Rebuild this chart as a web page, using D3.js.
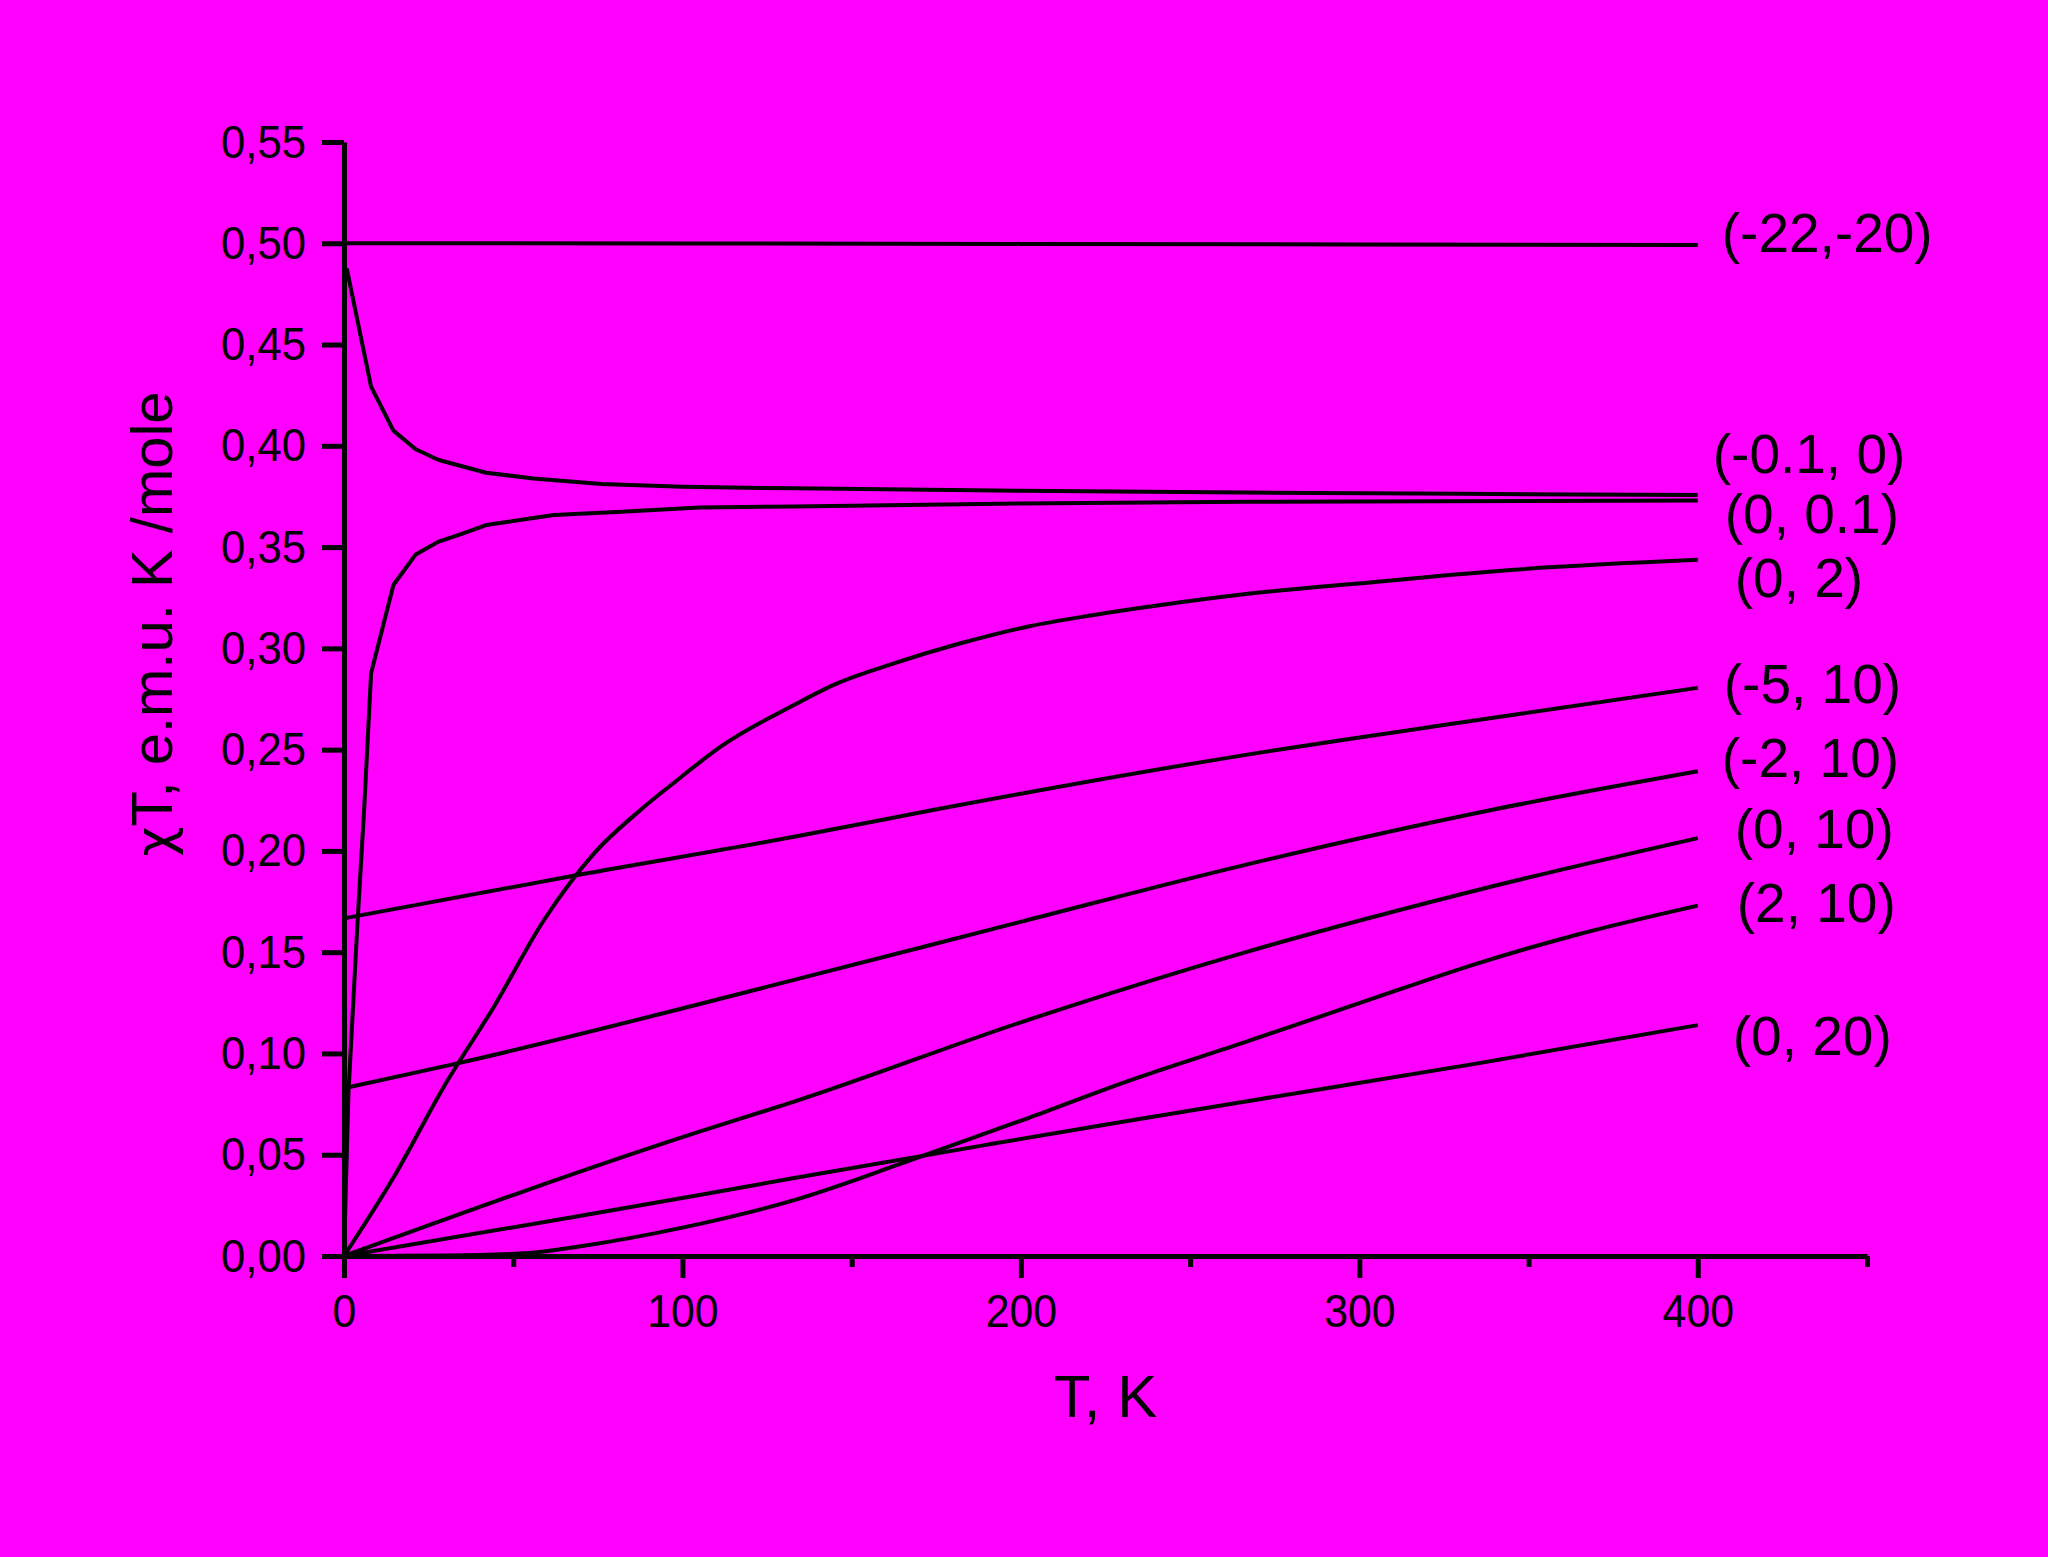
<!DOCTYPE html>
<html>
<head>
<meta charset="utf-8">
<script src="https://cdn.jsdelivr.net/npm/d3@7"></script>
<style>
  html, body { margin: 0; padding: 0; background: #ff00ff; }
  svg { display: block; }
  text { font-family: "Liberation Sans", Arial, sans-serif; fill: #000; }
</style>
</head>
<body>
<svg id="chart" width="2048" height="1557"></svg>
<script>
// ---- data ----
const seriesLabels = ["(-22,-20)", "(-0.1, 0)", "(0, 0.1)", "(0, 2)", "(-5, 10)", "(-2, 10)", "(0, 10)", "(2, 10)", "(0, 20)"];

const t_m22_m20 = [0, 100, 200, 300, 400];
const chi_m22_m20 = [0.500, 0.4999, 0.4997, 0.4994, 0.4991];

const t_m01_0 = [0.8, 8, 14.6, 21.2, 28, 42, 56, 76, 100, 133, 200, 266, 330, 400];
const chi_m01_0 = [0.4876, 0.4292, 0.4075, 0.3983, 0.3930, 0.3867, 0.3839, 0.3811, 0.3798, 0.3790, 0.3778, 0.3769, 0.3763, 0.3757];

const t_0_01 = [0, 1.3, 4, 6, 8, 14.6, 21.2, 28, 35, 42, 62, 82, 105, 133, 200, 266, 400];
const chi_0_01 = [0, 0.080, 0.165, 0.222, 0.2877, 0.3313, 0.3464, 0.3527, 0.3567, 0.3609, 0.3658, 0.3675, 0.3696, 0.3700, 0.3715, 0.3724, 0.3730];

const t_0_2 = [0, 14.8, 29.5, 44.3, 59.1, 73.9, 87.6, 98.5, 111.3, 132.9, 145.7, 162.5, 182.2, 201.9, 221.6, 241.3, 265.9, 305.3, 344.7, 400];
const chi_0_2 = [0, 0.0392, 0.0836, 0.1231, 0.1659, 0.1988, 0.2202, 0.2350, 0.2515, 0.2720, 0.2827, 0.2926, 0.3025, 0.3107, 0.3165, 0.3214, 0.3267, 0.3329, 0.3387, 0.3437];

const t_m5_10 = [0, 69, 133, 174, 266, 335, 400];
const chi_m5_10 = [0.1667, 0.1881, 0.2070, 0.2202, 0.2473, 0.2646, 0.2805];

const t_m2_10 = [0, 33.5, 133, 202, 266, 339, 400];
const chi_m2_10 = [0.0828, 0.0951, 0.1363, 0.1659, 0.1930, 0.2202, 0.2393];

const t_0_10 = [0, 105, 133, 202, 266, 335, 400];
const chi_0_10 = [0, 0.0614, 0.0762, 0.1165, 0.1498, 0.1807, 0.2063];

const t_2_10 = [0, 30, 53, 69, 100, 133, 165, 202, 231, 266, 300, 335, 364, 400];
const chi_2_10 = [0, 0.0002, 0.0013, 0.0046, 0.0140, 0.0276, 0.0458, 0.0680, 0.0860, 0.1055, 0.1248, 0.1445, 0.1585, 0.1730];

const t_0_20 = [0, 67, 105, 133, 192, 231, 266, 335, 400];
const chi_0_20 = [0, 0.0190, 0.0301, 0.0385, 0.0555, 0.0665, 0.0762, 0.0951, 0.1140];

const yTickValues = [0, 0.05, 0.10, 0.15, 0.20, 0.25, 0.30, 0.35, 0.40, 0.45, 0.50, 0.55];
const xTickValues = [0, 100, 200, 300, 400];
const xMinorTickValues = [50, 150, 250, 350, 450];

const xTitle = "T, K";
const yTitleSymbol = "χ";
const yTitleRest = "T, e.m.u. K /mole";

// ---- layout ----
const svg = d3.select("#chart");
svg.append("rect").attr("width", 2048).attr("height", 1557).attr("fill", "#ff00ff");

const x = d3.scaleLinear().domain([0, 450]).range([344, 1867]);
const y = d3.scaleLinear().domain([0, 0.55]).range([1256, 142]);

const seriesT = [t_m22_m20, t_m01_0, t_0_01, t_0_2, t_m5_10, t_m2_10, t_0_10, t_2_10, t_0_20];
const seriesChi = [chi_m22_m20, chi_m01_0, chi_0_01, chi_0_2, chi_m5_10, chi_m2_10, chi_0_10, chi_2_10, chi_0_20];
// first three curves are drawn as plain polylines (visible kinks), the rest smooth
const smoothFlags = [false, false, false, true, true, true, true, true, true];

// label placement relative to line end (pixels)
const labelDx = [24, 15, 27, 37, 26, 24, 37, 39, 35];
const labelDy = [7, -22, 32, 37, 15, 6, 10, 16, 30];

const gLines = svg.append("g");
seriesT.forEach((ts, i) => {
  const pts = ts.map((t, j) => [t, seriesChi[i][j]]);
  const line = d3.line().x(d => x(d[0])).y(d => y(d[1]))
    .curve(smoothFlags[i] ? d3.curveMonotoneX : d3.curveLinear);
  gLines.append("path")
    .attr("d", line(pts))
    .attr("fill", "none")
    .attr("stroke", "#000")
    .attr("stroke-width", 4)
    .attr("stroke-linejoin", "round");
  const last = pts[pts.length - 1];
  svg.append("text")
    .attr("x", x(last[0]) + labelDx[i])
    .attr("y", y(last[1]) + labelDy[i])
    .attr("font-size", 55)
    .text(seriesLabels[i]);
});

// axes
const fmt = d => d3.format(".2f")(d).replace(".", ",");
const yAxis = svg.append("g")
  .attr("transform", `translate(${x(0)},0)`)
  .call(d3.axisLeft(y).tickValues(yTickValues).tickSize(22).tickSizeOuter(0).tickPadding(16).tickFormat(fmt));
const xAxis = svg.append("g")
  .attr("transform", `translate(0,${y(0)})`)
  .call(d3.axisBottom(x).tickValues(xTickValues).tickSize(22).tickSizeOuter(0).tickPadding(16).tickFormat(d3.format("d")));
const xMinor = svg.append("g")
  .attr("transform", `translate(0,${y(0)})`)
  .call(d3.axisBottom(x).tickValues(xMinorTickValues).tickSize(11).tickSizeOuter(0).tickFormat(""));
xMinor.select(".domain").remove();

[yAxis, xAxis, xMinor].forEach(g => {
  g.attr("font-size", null).attr("font-family", null);
  g.selectAll(".domain").attr("stroke", "#000").attr("stroke-width", 5);
  g.selectAll(".tick line").attr("stroke", "#000").attr("stroke-width", 5);
  g.selectAll(".tick text")
    .attr("fill", "#000")
    .style("font-size", "47px")
    .style("font-family", "'Liberation Sans', Arial, sans-serif");
});
// slightly condensed numerals as in the reference
yAxis.selectAll(".tick text").attr("textLength", 85).attr("lengthAdjust", "spacingAndGlyphs");
xAxis.selectAll(".tick text").each(function(d) {
  const n = String(d).length;
  d3.select(this).attr("textLength", n * 23.8).attr("lengthAdjust", "spacingAndGlyphs");
});

// titles
svg.append("text")
  .attr("x", (x(0) + x(450)) / 2)
  .attr("y", 1417)
  .attr("text-anchor", "middle")
  .attr("font-size", 60)
  .text(xTitle);

const yt = svg.append("text")
  .attr("transform", "translate(172,624) rotate(-90)")
  .attr("text-anchor", "middle")
  .attr("font-size", 58);
yt.append("tspan").attr("font-family", "'DejaVu Sans', 'Noto Sans', sans-serif").attr("font-size", 52).text(yTitleSymbol);
yt.append("tspan").text(yTitleRest);
</script>
</body>
</html>
